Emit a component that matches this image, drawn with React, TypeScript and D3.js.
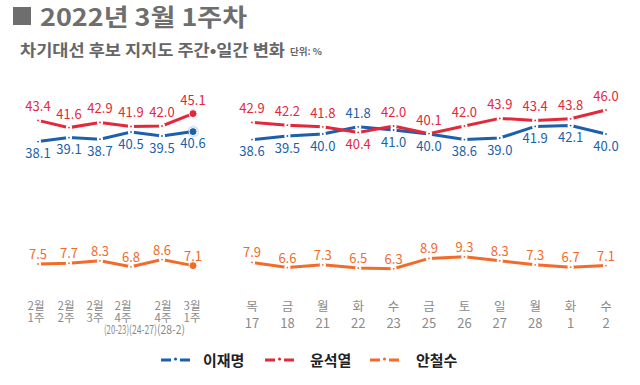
import * as d3 from 'd3';

const weekCats = [
  ['2월', '1주'],
  ['2월', '2주'],
  ['2월', '3주'],
  ['2월', '4주', '(20-23)'],
  ['2월', '4주', '(24-27)'],
  ['3월', '1주', '(28-2)'],
];
const weekLee = [38.1, 39.1, 38.7, 40.5, 39.5, 40.6];
const weekYoon = [43.4, 41.6, 42.9, 41.9, 42.0, 45.1];
const weekAhn = [7.5, 7.7, 8.3, 6.8, 8.6, 7.1];

const dayNames = ['목', '금', '월', '화', '수', '금', '토', '일', '월', '화', '수'];
const dayNums = ['17', '18', '21', '22', '23', '25', '26', '27', '28', '1', '2'];
const dayLee = [38.6, 39.5, 40.0, 41.8, 41.0, 40.0, 38.6, 39.0, 41.9, 42.1, 40.0];
const dayYoon = [42.9, 42.2, 41.8, 40.4, 42.0, 40.1, 42.0, 43.9, 43.4, 43.8, 46.0];
const dayAhn = [7.9, 6.6, 7.3, 6.5, 6.3, 8.9, 9.3, 8.3, 7.3, 6.7, 7.1];

const candidates = ['이재명', '윤석열', '안철수'];

const BLUE = '#1c5fab';
const RED = '#e3283a';
const ORANGE = '#f26b2a';
const colors = [BLUE, RED, ORANGE];
const FONT = '"Noto Sans CJK KR", "Noto Sans", sans-serif';

const W = 640;
const H = 385;

const y = d3.scaleLinear().domain([0, 50]).range([294, 94]);

type Panel = {
  x: d3.ScalePoint<string>;
  lee: number[];
  yoon: number[];
  ahn: number[];
  bigLast: boolean;
};

function Series({ p, vals, color, kind, other, big }: {
  p: Panel; vals: number[]; color: string; kind: 'lee' | 'yoon' | 'ahn'; other?: number[]; big: boolean;
}) {
  const keys = p.x.domain();
  const line = d3.line<number>()
    .x((_, i) => p.x(keys[i])!)
    .y((d) => y(d));
  return (
    <g>
      <path d={line(vals) || ''} fill="none" stroke={color} strokeWidth={3} />
      {vals.map((v, i) => {
        const cx = p.x(keys[i])!;
        const cy = y(v);
        const last = big && i === vals.length - 1;
        let above: boolean;
        if (kind === 'ahn') above = true;
        else if (kind === 'yoon') above = v >= (other ? other[i] : 0);
        else above = v > (other ? other[i] : 0);
        const off = kind === 'ahn' ? -10.5 : above ? -14.5 : 11;
        return (
          <g key={i}>
            {last && kind === 'lee' && <circle cx={cx} cy={cy} r={6} fill={color} opacity={0.15} />}
            <circle cx={cx} cy={cy} r={last ? 4 : 2} fill={color} stroke="#fff" strokeWidth={last ? 1 : 2.2} />
            <text
              x={cx}
              y={cy + off}
              dominantBaseline="central"
              textAnchor="middle"
              fontSize={13}
              fontFamily={FONT}
              fill={color}
            >
              {v.toFixed(1)}
            </text>
          </g>
        );
      })}
    </g>
  );
}

function PanelView({ p }: { p: Panel }) {
  return (
    <g>
      <Series p={p} vals={p.ahn} color={ORANGE} kind="ahn" big={p.bigLast} />
      <Series p={p} vals={p.lee} color={BLUE} kind="lee" other={p.yoon} big={p.bigLast} />
      <Series p={p} vals={p.yoon} color={RED} kind="yoon" other={p.lee} big={p.bigLast} />
    </g>
  );
}

export default function App() {
  const weekKeys = weekCats.map((_, i) => 'w' + i);
  const dayKeys = dayNums.map((_, i) => 'd' + i);
  const xw = d3.scalePoint<string>().domain(weekKeys).range([38, 193]);
  const xd = d3.scalePoint<string>().domain(dayKeys).range([252, 606]);

  const weekPanel: Panel = { x: xw, lee: weekLee, yoon: weekYoon, ahn: weekAhn, bigLast: true };
  const dayPanel: Panel = { x: xd, lee: dayLee, yoon: dayYoon, ahn: dayAhn, bigLast: false };

  // small nudges of the weekly tick labels as in the source
  const weekDx = [-2, -3, -5, -8, 1, -1];
  const parenDx = [0, 0, 0, -14.5, -19, -22];
  const parenLen = [0, 0, 0, 25, 28, 28];

  const legendX = [161, 265, 370];
  const legendTextX = [203, 310, 416];

  return (
    <svg width={W} height={H} style={{ position: 'absolute', left: 0, top: 0, background: '#fff' }}>
      <rect x={0} y={0} width={W} height={H} fill="#fff" />
      <rect x={13} y={7} width={18} height={18} fill="#6e6e6e" />
      <text x={40} y={26} fontSize={24} fontWeight="bold" fontFamily={FONT} fill="#6e6e6e"
        textLength={207} lengthAdjust="spacingAndGlyphs">
        2022년 3월 1주차
      </text>
      <text x={20} y={56} fontSize={16} fontWeight="bold" fontFamily={FONT} fill="#666"
        textLength={265} lengthAdjust="spacingAndGlyphs">
        차기대선 후보 지지도 주간•일간 변화
      </text>
      <text x={290} y={55} fontSize={9.5} fontWeight="bold" fontFamily={FONT} fill="#666">
        단위: %
      </text>

      <PanelView p={weekPanel} />
      <PanelView p={dayPanel} />

      {weekCats.map((c, i) => (
        <g key={i} fontFamily={FONT} fill="#8a8a8a" textAnchor="middle">
          {c.map((s, j) => (
            <text key={j} x={xw(weekKeys[i])! + (j === 2 ? parenDx[i] : weekDx[i])} y={305 + j * 11.5}
              dominantBaseline="central" fontSize={j === 2 ? 12 : 11.5}
              textLength={j === 2 ? parenLen[i] : undefined}
              lengthAdjust="spacingAndGlyphs">
              {s}
            </text>
          ))}
        </g>
      ))}
      {dayNames.map((n, i) => (
        <g key={i} fontFamily={FONT} fill="#8a8a8a" textAnchor="middle">
          <text x={xd(dayKeys[i])!} y={305} fontSize={12.5} dominantBaseline="central">{n}</text>
          <text x={xd(dayKeys[i])!} y={322.5} fontSize={13} dominantBaseline="central">{dayNums[i]}</text>
        </g>
      ))}

      {candidates.map((name, i) => (
        <g key={name}>
          <line x1={legendX[i]} x2={legendX[i] + 10} y1={360} y2={360} stroke={colors[i]} strokeWidth={3} />
          <circle cx={legendX[i] + 14.5} cy={359} r={1.6} fill={colors[i]} />
          <line x1={legendX[i] + 19} x2={legendX[i] + 29} y1={360} y2={360} stroke={colors[i]} strokeWidth={3} />
          <text x={legendTextX[i]} y={359} fontSize={15} fontWeight="bold" fontFamily={FONT} fill="#222"
            dominantBaseline="central">
            {name}
          </text>
        </g>
      ))}
    </svg>
  );
}
